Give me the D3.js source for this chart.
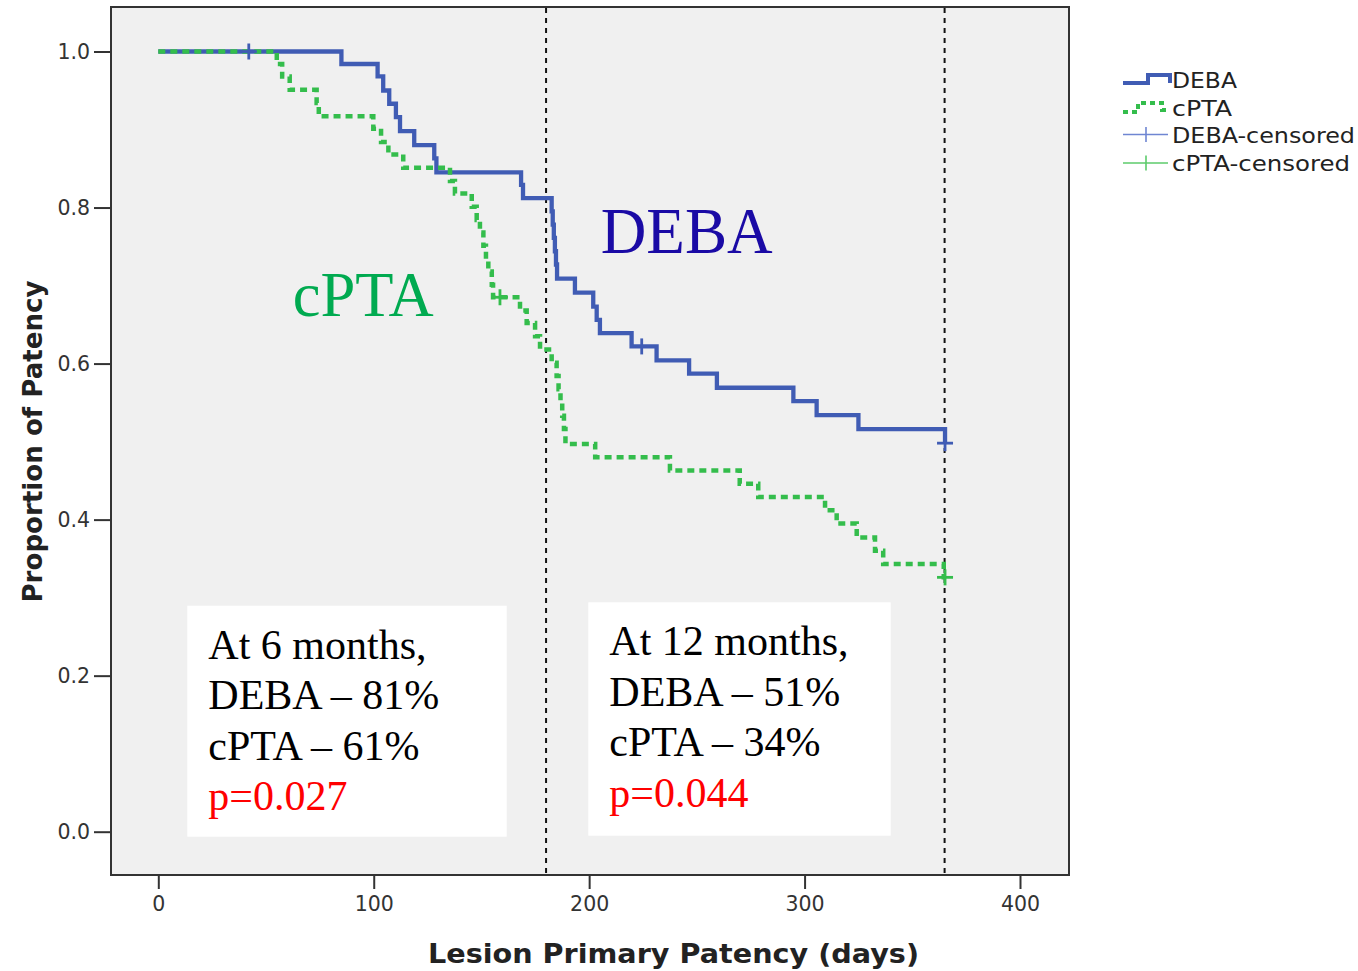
<!DOCTYPE html>
<html>
<head>
<meta charset="utf-8">
<script src="https://cdn.jsdelivr.net/npm/d3@7"></script>
<style>
  html, body { margin: 0; padding: 0; background: #ffffff; }
  svg { display: block; }
</style>
</head>
<body>
<svg id="chart" width="1358" height="971"></svg>
<script>
// ---------------- DATA ----------------
const xTickValues = [0, 100, 200, 300, 400];
const yTickValues = [0.0, 0.2, 0.4, 0.6, 0.8, 1.0];

const debaTimes = [0, 85, 101.8, 104.4, 107.2, 110.3, 112.2, 118.8, 128.1, 129.1,
  168.4, 169.3, 182.6, 183.1, 183.6, 184.1, 184.6, 185.1,
  193.4, 201.9, 203.5, 205, 219.7, 231.3, 246.4, 259.3,
  294.8, 305.6, 325, 365.2];
const debaSurv = [1, 0.984, 0.968, 0.950, 0.933, 0.916, 0.898, 0.880, 0.863, 0.845,
  0.829, 0.812, 0.795, 0.778, 0.761, 0.744, 0.727, 0.709,
  0.691, 0.673, 0.656, 0.639, 0.622, 0.604, 0.587, 0.569,
  0.552, 0.534, 0.516, 0.498];
const debaCensored = [42, 224.4, 365.2];

const cptaTimes = [0, 55, 57.5, 61, 73.5, 74.5, 99.8, 103.4, 106.8, 113.7,
  135.4, 137.7, 145.5, 147.8, 149.3, 150.9, 152.1, 153.2, 154.8, 155.4,
  167.9, 171, 174.9, 177.2, 182.6, 184.9, 185.8, 186.7, 187.5, 188.3, 189,
  202.8, 237.5, 269.9, 278.5, 309.5, 314.9, 324.2, 332.7, 336.5, 364.6];
const cptaSurv = [1, 0.984, 0.968, 0.951, 0.934, 0.917, 0.901, 0.884, 0.868, 0.851,
  0.834, 0.818, 0.801, 0.784, 0.768, 0.751, 0.734, 0.718, 0.701, 0.685,
  0.668, 0.652, 0.635, 0.618, 0.601, 0.584, 0.567, 0.550, 0.533, 0.516, 0.497,
  0.480, 0.463, 0.446, 0.429, 0.412, 0.395, 0.377, 0.360, 0.343, 0.326];
const cptaCensored = [158.6, 365.2];

const referenceDays = [180, 365];

const seriesNames = ["DEBA", "cPTA"];
const legendLabels = ["DEBA", "cPTA", "DEBA-censored", "cPTA-censored"];

const box6Lines = ["At 6 months,", "DEBA \u2013 81%", "cPTA \u2013 61%", "p=0.027"];
const box12Lines = ["At 12 months,", "DEBA \u2013 51%", "cPTA \u2013 34%", "p=0.044"];

const xTitle = "Lesion Primary Patency (days)";
const yTitle = "Proportion of Patency";

// ---------------- LAYOUT ----------------
const plot = { left: 111, right: 1069, top: 7, bottom: 875 };
const blue = "#405cb4", green = "#34bd4c";
const blueLight = "#6f86d2", greenLight = "#5ccb6b";

const svg = d3.select("#chart");

const pxPerDay = (1020 - 158.3) / 400;
const x = d3.scaleLinear()
  .domain([(plot.left - 158.3) / pxPerDay, (plot.right - 158.3) / pxPerDay])
  .range([plot.left, plot.right]);
const pxPerUnit = 831.7 - 51.5;
const y = d3.scaleLinear()
  .domain([(831.7 - plot.bottom) / pxPerUnit, (831.7 - plot.top) / pxPerUnit])
  .range([plot.bottom, plot.top]);

// plot background
svg.append("rect")
  .attr("x", plot.left).attr("y", plot.top)
  .attr("width", plot.right - plot.left).attr("height", plot.bottom - plot.top)
  .attr("fill", "#f0f0f0");

// annotation boxes
function drawBox(x0, y0, x1, y1, lines, tx, baseline0) {
  svg.append("rect").attr("x", x0).attr("y", y0)
    .attr("width", x1 - x0).attr("height", y1 - y0).attr("fill", "#ffffff");
  lines.forEach((t, i) => {
    svg.append("text")
      .attr("x", tx).attr("y", baseline0 + i * 50.6)
      .attr("font-family", "'Liberation Serif', 'Times New Roman', serif")
      .attr("font-size", 42)
      .attr("fill", i === 3 ? "#ff0000" : "#000000")
      .text(t);
  });
}
drawBox(187.3, 605.7, 506.7, 836.7, box6Lines, 208.3, 658.5);
drawBox(588.3, 602.3, 890.7, 835.7, box12Lines, 609.3, 655.2);

// reference lines
svg.selectAll("line.ref").data(referenceDays).enter().append("line")
  .attr("class", "ref")
  .attr("x1", d => x(d)).attr("x2", d => x(d))
  .attr("y1", plot.top + 1).attr("y2", plot.bottom)
  .attr("stroke", "#111").attr("stroke-width", 2)
  .attr("stroke-dasharray", "5,5");

// survival curves
function seriesPoints(times, surv, censored) {
  const pts = times.map((t, i) => [t, surv[i]]);
  const lastT = d3.max(censored);
  if (lastT > times[times.length - 1]) pts.push([lastT, surv[surv.length - 1]]);
  return pts;
}
function survAt(times, surv, t) {
  const i = d3.bisectRight(times, t) - 1;
  return surv[Math.max(0, i)];
}
const line = d3.line().x(d => x(d[0])).y(d => y(d[1])).curve(d3.curveStepAfter);

svg.append("path")
  .datum(seriesPoints(debaTimes, debaSurv, debaCensored))
  .attr("d", line).attr("fill", "none")
  .attr("stroke", blue).attr("stroke-width", 4.3);

svg.append("path")
  .datum(seriesPoints(cptaTimes, cptaSurv, cptaCensored))
  .attr("d", line).attr("fill", "none")
  .attr("stroke", green).attr("stroke-width", 4.5)
  .attr("stroke-dasharray", "7,5");

// censor marks
function drawCensor(times, surv, cens, color) {
  const g = svg.append("g");
  cens.forEach(t => {
    const cx = x(t), cy = y(survAt(times, surv, t));
    g.append("line").attr("x1", cx - 8).attr("x2", cx + 8).attr("y1", cy).attr("y2", cy)
      .attr("stroke", color).attr("stroke-width", 2.8);
    g.append("line").attr("x1", cx).attr("x2", cx).attr("y1", cy - 8).attr("y2", cy + 8)
      .attr("stroke", color).attr("stroke-width", 2.8);
  });
}
drawCensor(debaTimes, debaSurv, debaCensored, blue);
drawCensor(cptaTimes, cptaSurv, cptaCensored, green);

// curve labels
svg.append("text").attr("x", 600.7).attr("y", 252.7)
  .attr("font-family", "'Liberation Serif', 'Times New Roman', serif")
  .attr("font-size", 65).attr("fill", "#1a0aa5")
  .attr("textLength", 172).attr("lengthAdjust", "spacingAndGlyphs")
  .text(seriesNames[0]);
svg.append("text").attr("x", 292.7).attr("y", 316)
  .attr("font-family", "'Liberation Serif', 'Times New Roman', serif")
  .attr("font-size", 64).attr("fill", "#00aa50")
  .attr("textLength", 141).attr("lengthAdjust", "spacingAndGlyphs")
  .text(seriesNames[1]);

// frame
svg.append("rect")
  .attr("x", plot.left).attr("y", plot.top)
  .attr("width", plot.right - plot.left).attr("height", plot.bottom - plot.top)
  .attr("fill", "none").attr("stroke", "#333").attr("stroke-width", 2);

// axes
const yAxis = d3.axisLeft(y).tickValues(yTickValues).tickFormat(d3.format(".1f"))
  .tickSize(17).tickPadding(4);
const gy = svg.append("g").attr("transform", `translate(${plot.left},0)`).call(yAxis);
gy.select(".domain").remove();
gy.selectAll(".tick line").attr("stroke", "#333").attr("stroke-width", 2);
gy.selectAll(".tick text").attr("font-family", "'DejaVu Sans', Verdana, sans-serif")
  .attr("font-size", 20.5).attr("fill", "#333");

const xAxis = d3.axisBottom(x).tickValues(xTickValues).tickFormat(d3.format("d"))
  .tickSize(14).tickPadding(7);
const gx = svg.append("g").attr("transform", `translate(0,${plot.bottom})`).call(xAxis);
gx.select(".domain").remove();
gx.selectAll(".tick line").attr("stroke", "#333").attr("stroke-width", 2);
gx.selectAll(".tick text").attr("font-family", "'DejaVu Sans', Verdana, sans-serif")
  .attr("font-size", 20.5).attr("fill", "#333");

// axis titles
svg.append("text").attr("x", 673.5).attr("y", 963)
  .attr("text-anchor", "middle")
  .attr("font-family", "'DejaVu Sans', Verdana, sans-serif")
  .attr("font-weight", "bold").attr("font-size", 27).attr("fill", "#222")
  .attr("textLength", 491).attr("lengthAdjust", "spacingAndGlyphs")
  .text(xTitle);
svg.append("text")
  .attr("transform", "translate(42,441.5) rotate(-90)")
  .attr("text-anchor", "middle")
  .attr("font-family", "'DejaVu Sans', Verdana, sans-serif")
  .attr("font-weight", "bold").attr("font-size", 26).attr("fill", "#222")
  .attr("textLength", 322).attr("lengthAdjust", "spacingAndGlyphs")
  .text(yTitle);

// legend
const lg = svg.append("g");
lg.append("path").attr("d", "M1123,83 H1148 V75 H1170 V83")
  .attr("fill", "none").attr("stroke", blue).attr("stroke-width", 4);
lg.append("path").attr("d", "M1123,112 H1138 V103 H1162 V110 H1170")
  .attr("fill", "none").attr("stroke", green).attr("stroke-width", 4)
  .attr("stroke-dasharray", "5,4");
lg.append("line").attr("x1", 1123).attr("x2", 1168).attr("y1", 134.5).attr("y2", 134.5)
  .attr("stroke", blueLight).attr("stroke-width", 1.6);
lg.append("line").attr("x1", 1146).attr("x2", 1146).attr("y1", 127).attr("y2", 142)
  .attr("stroke", blueLight).attr("stroke-width", 1.6);
lg.append("line").attr("x1", 1123).attr("x2", 1168).attr("y1", 163).attr("y2", 163)
  .attr("stroke", greenLight).attr("stroke-width", 1.6);
lg.append("line").attr("x1", 1146).attr("x2", 1146).attr("y1", 155.5).attr("y2", 170.5)
  .attr("stroke", greenLight).attr("stroke-width", 1.6);

const legendBaselines = [88, 115.5, 143, 171];
const legendWidths = [65, 60, 183, 178];
legendLabels.forEach((t, i) => {
  lg.append("text").attr("x", 1172).attr("y", legendBaselines[i])
    .attr("font-family", "'DejaVu Sans', Verdana, sans-serif")
    .attr("font-size", 21).attr("fill", "#222")
    .attr("textLength", legendWidths[i]).attr("lengthAdjust", "spacingAndGlyphs")
    .text(t);
});
</script>
</body>
</html>
